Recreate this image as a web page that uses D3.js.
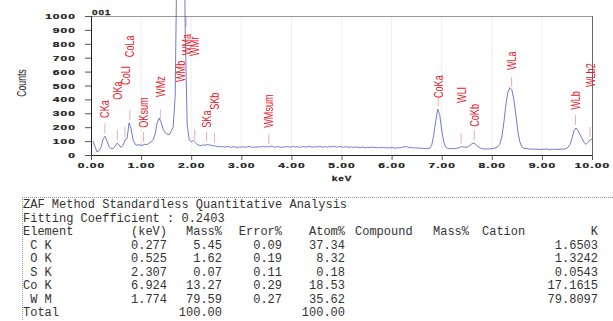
<!DOCTYPE html>
<html>
<head>
<meta charset="utf-8">
<script src="https://cdn.jsdelivr.net/npm/d3@7"></script>
<style>
  body { margin: 0; background: #fff; }
  svg { display: block; }
</style>
</head>
<body>
<div id="chart"></div>
<script>
// ---- spectrum data (counts per 0.04 keV channel) ----
var xTicks = [0, 1, 2, 3, 4, 5, 6, 7, 8, 9, 10];
var yTicks = [0, 100, 200, 300, 400, 500, 600, 700, 800, 900, 1000];
var startKeV = 0.04, channelKeV = 0.04;
var counts = [
  100, 60, 22, 30, 55, 115, 135, 100, 60, 45,          // 0.04 - 0.40
  48, 62, 85, 72, 55, 70, 108, 118, 230, 190,          // 0.44 - 0.80
  110, 78, 70, 75, 68, 72, 78, 74, 85, 95,             // 0.84 - 1.20
  110, 150, 230, 265, 235, 185, 160, 150, 145, 170,    // 1.24 - 1.60
  200, 420, 1600, 2600, 2900, 2500, 900, 220, 110, 95, // 1.64 - 2.00
  105, 90, 75, 70, 68, 72, 70, 76, 72, 70,             // 2.04 - 2.40
  68, 64, 60, 62, 58,                                  // 2.44 - 2.60
  60, 57, 62, 58, 55, 60, 57, 54, 58, 56,              // 2.64 - 3.00
  60, 55, 58, 62, 57, 55, 59, 56, 60, 58,              // 3.04 - 3.40
  63, 58, 61, 57, 64, 59, 56, 60, 58, 55,              // 3.44 - 3.80
  59, 57, 61, 56, 58, 62, 57, 60, 55, 58,              // 3.84 - 4.20
  61, 57, 59, 63, 58, 56, 60, 57, 62, 59,              // 4.24 - 4.60
  57, 60, 56, 61, 58, 63, 59, 57, 61, 58,              // 4.64 - 5.00
  56, 60, 57, 55, 59, 54, 58, 56, 53, 57,              // 5.04 - 5.40
  55, 52, 56, 54, 58, 53, 55, 51, 54, 52,              // 5.44 - 5.80
  55, 51, 53, 50, 54, 52, 49, 53, 51, 55,              // 5.84 - 6.20
  58, 62, 57, 53, 55, 50, 52, 49, 51, 47,              // 6.24 - 6.60
  48, 45, 47,                                          // 6.64 - 6.72
  48, 70, 140, 240, 330, 290, 180, 95, 58, 48,         // 6.76 - 7.12
  45, 47, 44, 48, 50, 55, 60, 57, 55, 58,              // 7.16 - 7.52
  68, 80, 86, 76, 62, 52, 46, 44, 42, 45,              // 7.56 - 7.92
  43, 46, 48, 52, 60, 78, 130, 230, 360, 450,          // 7.96 - 8.32
  485, 470, 400, 290, 170, 95, 58, 48, 46,             // 8.36 - 8.68
  45, 42, 44, 40, 43, 41, 39, 42, 40, 44,              // 8.72 - 9.08
  41, 38, 42, 40, 43, 39, 41, 44, 42, 46,              // 9.12 - 9.48
  55, 75, 120, 175, 195, 178, 150, 120, 90, 76,        // 9.52 - 9.88
  92, 108, 115                                         // 9.92 - 10.00
];

// peak identification labels
var peakNames = ["CKa", "OKa", "CoLl", "CoLa", "OKsum", "WMz", "WMb", "WMa", "WMr",
                 "SKa", "SKb", "WMsum", "CoKa", "WLl", "CoKb", "WLa", "WLb", "WLb2"];
var peakKeV = [0.277, 0.525, 0.678, 0.776, 1.05, 1.384, 1.78, 1.90, 2.07,
               2.307, 2.464, 3.55, 6.93, 7.387, 7.649, 8.396, 9.671, 9.96];
var peakLabelCounts = [267, 398, 504, 704, 196, 418, 525, 718, 713,
                       196, 325, 196, 410, 375, 203, 611, 325, 489];

// ---- quantitative analysis table ----
var reportTitle = "ZAF Method Standardless Quantitative Analysis";
var fittingLine = "Fitting Coefficient : 0.2403";
var elements = [" C K", " O K", " S K", "Co K", " W M"];
var elementKeV = ["0.277", "0.525", "2.307", "6.924", "1.774"];
var massPct = ["5.45", "1.62", "0.07", "13.27", "79.59"];
var errorPct = ["0.09", "0.19", "0.11", "0.29", "0.27"];
var atomPct = ["37.34", "8.32", "0.18", "18.53", "35.62"];
var kValues = ["1.6503", "1.3242", "0.0543", "17.1615", "79.8097"];
var totalMass = "100.00", totalAtom = "100.00";

var W = 613, H = 321;
var plotLeft = 91, plotRight = 592, plotTop = 16, plotBottom = 155;

var svg = d3.select("#chart").append("svg")
  .attr("width", W)
  .attr("height", H);

var x = d3.scaleLinear().domain([0, 10]).range([plotLeft, plotRight]);
var y = d3.scaleLinear().domain([0, 1000]).range([plotBottom, plotTop]);

// faint vertical grid
svg.append("g").selectAll("line")
  .data(xTicks.slice(1, -1))
  .join("line")
  .attr("x1", function(d) { return x(d); })
  .attr("x2", function(d) { return x(d); })
  .attr("y1", plotTop)
  .attr("y2", plotBottom)
  .attr("stroke", "#efefef");

// frame top / right
svg.append("line")
  .attr("x1", plotLeft).attr("x2", plotRight)
  .attr("y1", plotTop + 0.5).attr("y2", plotTop + 0.5)
  .attr("stroke", "#9a9a9a");
svg.append("line")
  .attr("x1", plotRight + 0.5).attr("x2", plotRight + 0.5)
  .attr("y1", plotTop).attr("y2", plotBottom)
  .attr("stroke", "#666");

var tickFont = function(sel) {
  sel.style("font-family", "'Liberation Sans', Arial, sans-serif")
    .style("font-weight", "bold")
    .style("font-size", "8px")
    .style("letter-spacing", "0.7px")
    .attr("fill", "#222")
    .attr("stroke", "#222")
    .attr("stroke-width", 0.25);
};

// y axis
var yAxisG = svg.append("g")
  .attr("transform", "translate(" + plotLeft + ",0)")
  .call(d3.axisLeft(y).tickValues(yTicks).tickSize(6).tickFormat(d3.format("d")));
yAxisG.select(".domain").attr("stroke", "#222");
yAxisG.selectAll(".tick line").attr("stroke", "#555");
yAxisG.selectAll("text")
  .attr("x", 0)
  .attr("transform", "translate(-15,0) scale(1.5,1)")
  .call(tickFont);

// x axis
var xAxisG = svg.append("g")
  .attr("transform", "translate(0," + plotBottom + ")")
  .call(d3.axisBottom(x).tickValues(xTicks).tickSize(5).tickFormat(d3.format(".2f")));
xAxisG.select(".domain").attr("stroke", "#222");
xAxisG.selectAll(".tick line").attr("stroke", "#555");
xAxisG.selectAll("text")
  .attr("y", 7)
  .attr("transform", "scale(1.5,1)")
  .call(tickFont);

// titles
svg.append("text")
  .attr("transform", "translate(92,15) scale(1.25,1)")
  .text("001")
  .call(tickFont);
svg.append("text")
  .attr("transform", "translate(342,181) scale(1.25,1)")
  .attr("text-anchor", "middle")
  .text("keV")
  .call(tickFont);
svg.append("text")
  .attr("transform", "translate(22,83) rotate(-90) scale(0.72,1)")
  .attr("text-anchor", "middle")
  .attr("dy", "0.35em")
  .style("font-family", "'Liberation Sans', Arial, sans-serif")
  .style("font-size", "12px")
  .attr("fill", "#222")
  .text("Counts");

// spectrum
var channelAt = function(e) {
  var i = Math.round((e - startKeV) / channelKeV);
  return Math.max(0, Math.min(counts.length - 1, i));
};

var spectrumLine = d3.line()
  .x(function(d, i) { return x(startKeV + i * channelKeV); })
  .y(function(d) { return y(d); });

// peak markers: short pink ticks just above the spectrum
svg.append("g").selectAll("line")
  .data(peakKeV)
  .join("line")
  .attr("x1", function(d) { return x(d); })
  .attr("x2", function(d) { return x(d); })
  .attr("y1", function(d) { return y(counts[channelAt(d)]) - 3; })
  .attr("y2", function(d) { return y(counts[channelAt(d)]) - 13; })
  .attr("stroke", "#f4aaaa")
  .attr("stroke-width", 1);

svg.append("path")
  .datum(counts)
  .attr("d", spectrumLine)
  .attr("fill", "none")
  .attr("stroke", "#3b46b4")
  .attr("stroke-opacity", 0.8)
  .attr("stroke-width", 0.9);

// peak labels
svg.append("g").selectAll("text")
  .data(peakNames)
  .join("text")
  .attr("transform", function(d, i) {
    return "translate(" + x(peakKeV[i]) + "," + y(peakLabelCounts[i]) + ") rotate(-90) scale(0.7,1)";
  })
  .attr("dy", "0.35em")
  .style("font-family", "'Liberation Sans', Arial, sans-serif")
  .style("font-size", "13px")
  .attr("fill", "#e8202a")
  .text(function(d) { return d; });

// ---- table ----
var tableTop = 197, tableLeft = 22;
svg.append("line")
  .attr("x1", tableLeft).attr("x2", W)
  .attr("y1", tableTop + 0.5).attr("y2", tableTop + 0.5)
  .attr("stroke", "#999").attr("stroke-dasharray", "1,1");
svg.append("line")
  .attr("x1", tableLeft + 0.5).attr("x2", tableLeft + 0.5)
  .attr("y1", tableTop).attr("y2", H)
  .attr("stroke", "#999").attr("stroke-dasharray", "1,1");

var table = svg.append("g")
  .style("font-family", "'Liberation Mono', 'Courier New', monospace")
  .style("font-size", "12px")
  .attr("fill", "#333");

var rowY = function(r) { return 208 + r * 13.5; };
var textX = 23;
var colEnd = { kev: 167, mass: 222, error: 282, atom: 345, k: 598 };

var put = function(str, xPos, r, anchor) {
  table.append("text")
    .attr("x", xPos)
    .attr("y", rowY(r))
    .attr("text-anchor", anchor || "start")
    .attr("xml:space", "preserve")
    .style("white-space", "pre")
    .text(str);
};

put(reportTitle, textX, 0);
put(fittingLine, textX, 1);
put("Element", textX, 2);
put("(keV)", colEnd.kev, 2, "end");
put("Mass%", colEnd.mass, 2, "end");
put("Error%", colEnd.error, 2, "end");
put("Atom%", colEnd.atom, 2, "end");
put("Compound", 355, 2);
put("Mass%", 433, 2);
put("Cation", 482, 2);
put("K", colEnd.k, 2, "end");

elements.forEach(function(el, i) {
  var r = 3 + i;
  put(el, textX, r);
  put(elementKeV[i], colEnd.kev, r, "end");
  put(massPct[i], colEnd.mass, r, "end");
  put(errorPct[i], colEnd.error, r, "end");
  put(atomPct[i], colEnd.atom, r, "end");
  put(kValues[i], colEnd.k, r, "end");
});

put("Total", textX, 8);
put(totalMass, colEnd.mass, 8, "end");
put(totalAtom, colEnd.atom, 8, "end");
</script>
</body>
</html>
